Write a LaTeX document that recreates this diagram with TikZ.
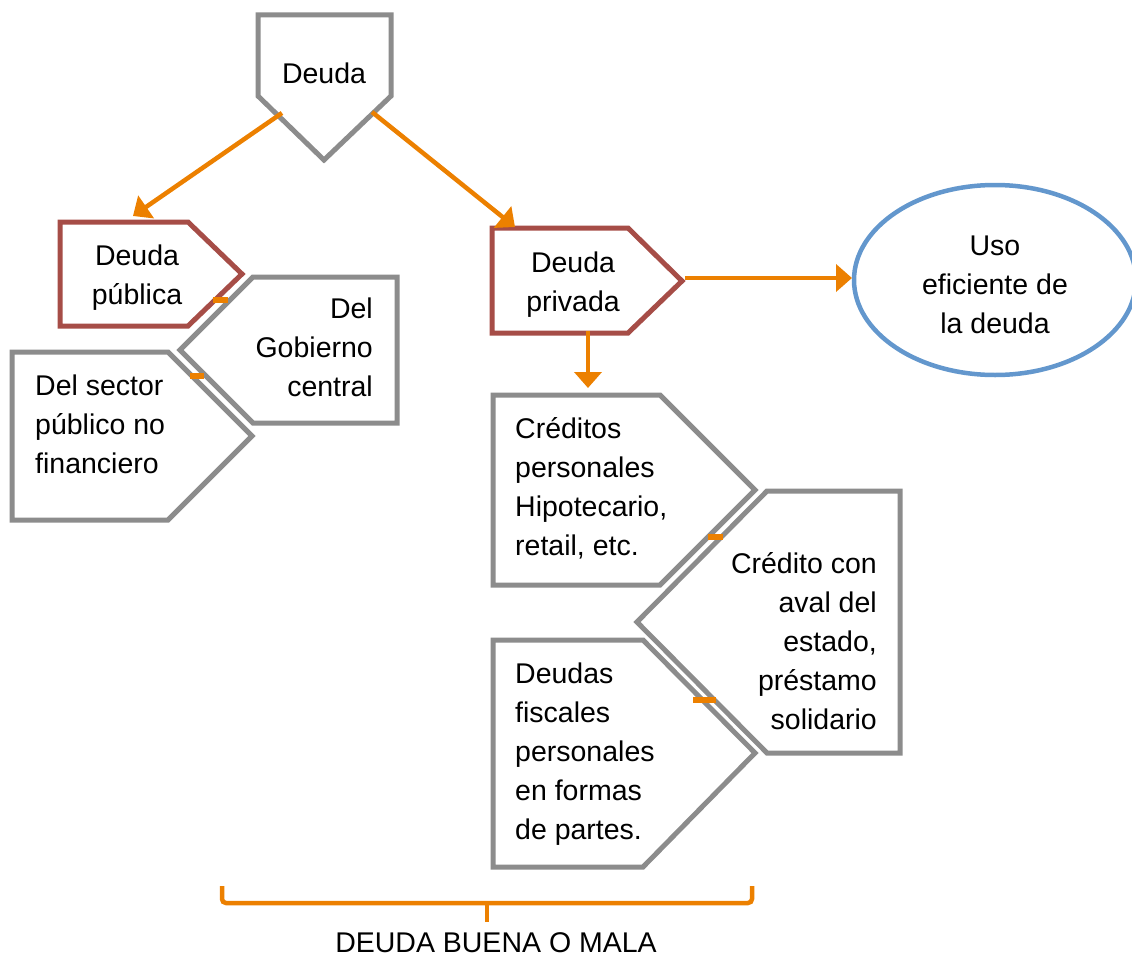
\documentclass[tikz,border=0pt]{standalone}
\usepackage{fontspec}
\setmainfont{Liberation Sans}
\usetikzlibrary{arrows.meta,shapes.geometric}
\definecolor{shgrey}{RGB}{140,140,140}
\definecolor{shred}{RGB}{166,77,71}
\definecolor{shorange}{RGB}{236,128,0}
\definecolor{shblue}{RGB}{99,151,205}
\tikzset{
  greyshape/.style={draw=shgrey, line width=5pt, line join=miter},
  redshape/.style={draw=shred, line width=5pt, line join=miter},
  lbl/.style={inner sep=0pt, font=\fontsize{28.5}{39}\selectfont},
  conn/.style={draw=shorange, line width=4.5pt, -{Triangle[length=16pt,width=27pt]}},
  tickmark/.style={draw=shorange, line width=6pt},
  bracestyle/.style={draw=shorange, line width=4.5pt, rounded corners=4pt}
}
\begin{document}
\begin{tikzpicture}[x=1pt,y=-1pt]
\useasboundingbox (0,0) rectangle (1132,958);
% shapes
\draw[greyshape] (258,15) -- (391,15) -- (391,96) -- (324,160) -- (258,96) -- cycle;
\draw[redshape] (60,222) -- (188,222) -- (242,274) -- (188,326) -- (60,326) -- cycle;
\draw[greyshape] (180,350) -- (253,277) -- (397,277) -- (397,423) -- (253,423) -- cycle;
\draw[greyshape] (12,352) -- (168,352) -- (252,436) -- (168,520) -- (12,520) -- cycle;
\draw[redshape] (492,228) -- (628,228) -- (682,281) -- (628,333) -- (492,333) -- cycle;
\draw[greyshape] (493,395) -- (660,395) -- (755,490) -- (660,585) -- (493,585) -- cycle;
\draw[greyshape] (637,622) -- (767,491) -- (900,491) -- (900,753) -- (767,753) -- cycle;
\draw[greyshape] (493,640) -- (643,640) -- (755,753) -- (643,867) -- (493,867) -- cycle;
\node[draw=shblue, line width=4.5pt, ellipse, minimum width=282pt, minimum height=190pt, inner sep=0pt] (uso) at (995,280) {};
% texts
\node[lbl, anchor=north, align=center] (deuda) at (324,55.7) {\strut Deuda};
\node[lbl, anchor=north, align=center] (publica) at (137,237.7) {\strut Deuda\\pública};
\node[lbl, anchor=north east, align=right] (gobierno) at (373,290.7) {\strut Del\\Gobierno\\central};
\node[lbl, anchor=north west, align=left] (sector) at (35,367.7) {\strut Del sector\\público no\\financiero};
\node[lbl, anchor=north, align=center] (privada) at (573,244.7) {\strut Deuda\\privada};
\node[lbl, anchor=north, align=center] (usotext) at (995,227.7) {\strut Uso\\eficiente de\\la deuda};
\node[lbl, anchor=north west, align=left] (creditos) at (515,410.7) {\strut Créditos\\personales\\Hipotecario,\\retail, etc.};
\node[lbl, anchor=north east, align=right] (aval) at (877,545.7) {\strut Crédito con\\aval del\\estado,\\préstamo\\solidario};
\node[lbl, anchor=north west, align=left] (fiscales) at (515,655.7) {\strut Deudas\\fiscales\\personales\\en formas\\de partes.};
\node[lbl, anchor=base] (buenamala) at (496,952) {DEUDA BUENA O MALA};
% connector coordinates
\coordinate (dL) at (282,113);
\coordinate (dR) at (372,112);
\coordinate (pubIn) at (133,216);
\coordinate (privIn) at (515,227);
\coordinate (privOut) at (685,278);
\coordinate (usoIn) at (852,278);
\coordinate (privBot) at (588,331);
\coordinate (credIn) at (588,388);
% connectors
\draw[conn] (dL) -- (pubIn);
\draw[conn] (dR) -- (privIn);
\draw[conn] (privOut) -- (usoIn);
\draw[conn] (privBot) -- (credIn);
% small connector marks
\coordinate (m1a) at (213,300); \coordinate (m1b) at (228,300);
\coordinate (m2a) at (190,376); \coordinate (m2b) at (204,376);
\coordinate (m3a) at (708,537); \coordinate (m3b) at (723,537);
\coordinate (m4a) at (693,700); \coordinate (m4b) at (716,700);
\draw[tickmark] (m1a) -- (m1b);
\draw[tickmark] (m2a) -- (m2b);
\draw[tickmark] (m3a) -- (m3b);
\draw[tickmark] (m4a) -- (m4b);
% brace
\coordinate (brL) at (222,886);
\coordinate (brR) at (752,886);
\coordinate (brM) at (487,903);
\coordinate (brTip) at (487,922);
\draw[bracestyle] (brL) -- (222,903) -- (752,903) -- (brR);
\draw[draw=shorange, line width=4.5pt] (brM) -- (brTip);
\end{tikzpicture}
\end{document}
